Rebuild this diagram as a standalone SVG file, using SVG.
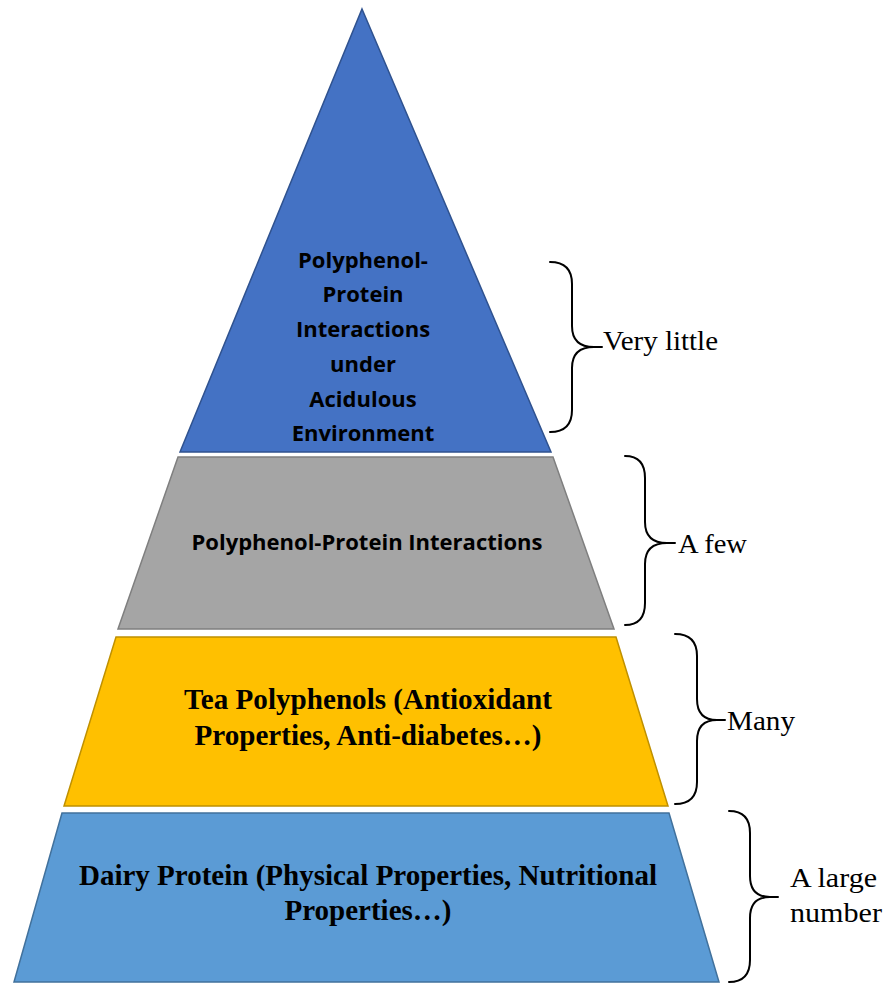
<svg xmlns="http://www.w3.org/2000/svg" width="885" height="983" viewBox="0 0 885 983">
<style>
.sans{font-family:"Open Sans","DejaVu Sans",sans-serif;font-weight:bold;font-size:22px;fill:#000;text-anchor:middle}
.serifb{font-family:"Liberation Serif","Times New Roman",serif;font-weight:bold;font-size:30px;fill:#000;text-anchor:middle}
.lbl{font-family:"Liberation Serif","Times New Roman",serif;font-size:28px;fill:#000}
.brace{fill:none;stroke:#000;stroke-width:2;stroke-linecap:round}
</style>
<rect width="885" height="983" fill="#fff"/>
<g id="level-top">
<polygon points="362,9 551,452 180,452" fill="#4472C4" stroke="#2F528F" stroke-width="1.5"/>
<text class="sans" x="363" y="268">Polyphenol-</text>
<text class="sans" x="363" y="302">Protein</text>
<text class="sans" x="363" y="337">Interactions</text>
<text class="sans" x="363" y="372">under</text>
<text class="sans" x="363" y="407">Acidulous</text>
<text class="sans" x="363" y="441">Environment</text>
</g>
<g id="level-2">
<polygon points="178,457 553,457 614,629 118,629" fill="#A5A5A5" stroke="#7F7F7F" stroke-width="1.5"/>
<text class="sans" x="367" y="550">Polyphenol-Protein Interactions</text>
</g>
<g id="level-3">
<polygon points="116,637 616,637 668,806 64,806" fill="#FFC000" stroke="#BF9000" stroke-width="1.5"/>
<text class="serifb" x="368" y="709" textLength="368" lengthAdjust="spacingAndGlyphs">Tea Polyphenols (Antioxidant</text>
<text class="serifb" x="368" y="745" textLength="347" lengthAdjust="spacingAndGlyphs">Properties, Anti-diabetes…)</text>
</g>
<g id="level-base">
<polygon points="62,813 669,813 719,982 14,982" fill="#5B9BD5" stroke="#41719C" stroke-width="1.5"/>
<text class="serifb" x="368" y="885" textLength="578" lengthAdjust="spacingAndGlyphs">Dairy Protein (Physical Properties, Nutritional</text>
<text class="serifb" x="368" y="920" textLength="167" lengthAdjust="spacingAndGlyphs">Properties…)</text>
</g>
<g id="braces">
<path class="brace" d="M550,262 Q572,262 572,284 L572,326 Q572,347 594,347 L602,347 M594,347 Q572,347 572,368 L572,410 Q572,432 550,432"/>
<path class="brace" d="M625,456 Q645,456 645,478 L645,522 Q645,543 667,543 L675,543 M667,543 Q645,543 645,564 L645,603 Q645,625 625,625"/>
<path class="brace" d="M675,634 Q697,634 697,656 L697,699 Q697,720 717,720 L725,720 M717,720 Q697,720 697,741 L697,782 Q697,804 675,804"/>
<path class="brace" d="M729,811 Q750,811 750,833 L750,876 Q750,897 770,897 L778,897 M770,897 Q750,897 750,918 L750,960 Q750,982 729,982"/>
</g>
<g id="labels">
<text class="lbl" x="603" y="350" textLength="115" lengthAdjust="spacingAndGlyphs">Very little</text>
<text class="lbl" x="678" y="553" textLength="69" lengthAdjust="spacingAndGlyphs">A few</text>
<text class="lbl" x="727" y="730" textLength="68" lengthAdjust="spacingAndGlyphs">Many</text>
<text class="lbl" x="790" y="887" textLength="87" lengthAdjust="spacingAndGlyphs">A large</text>
<text class="lbl" x="790" y="922" textLength="92" lengthAdjust="spacingAndGlyphs">number</text>
</g>
</svg>
